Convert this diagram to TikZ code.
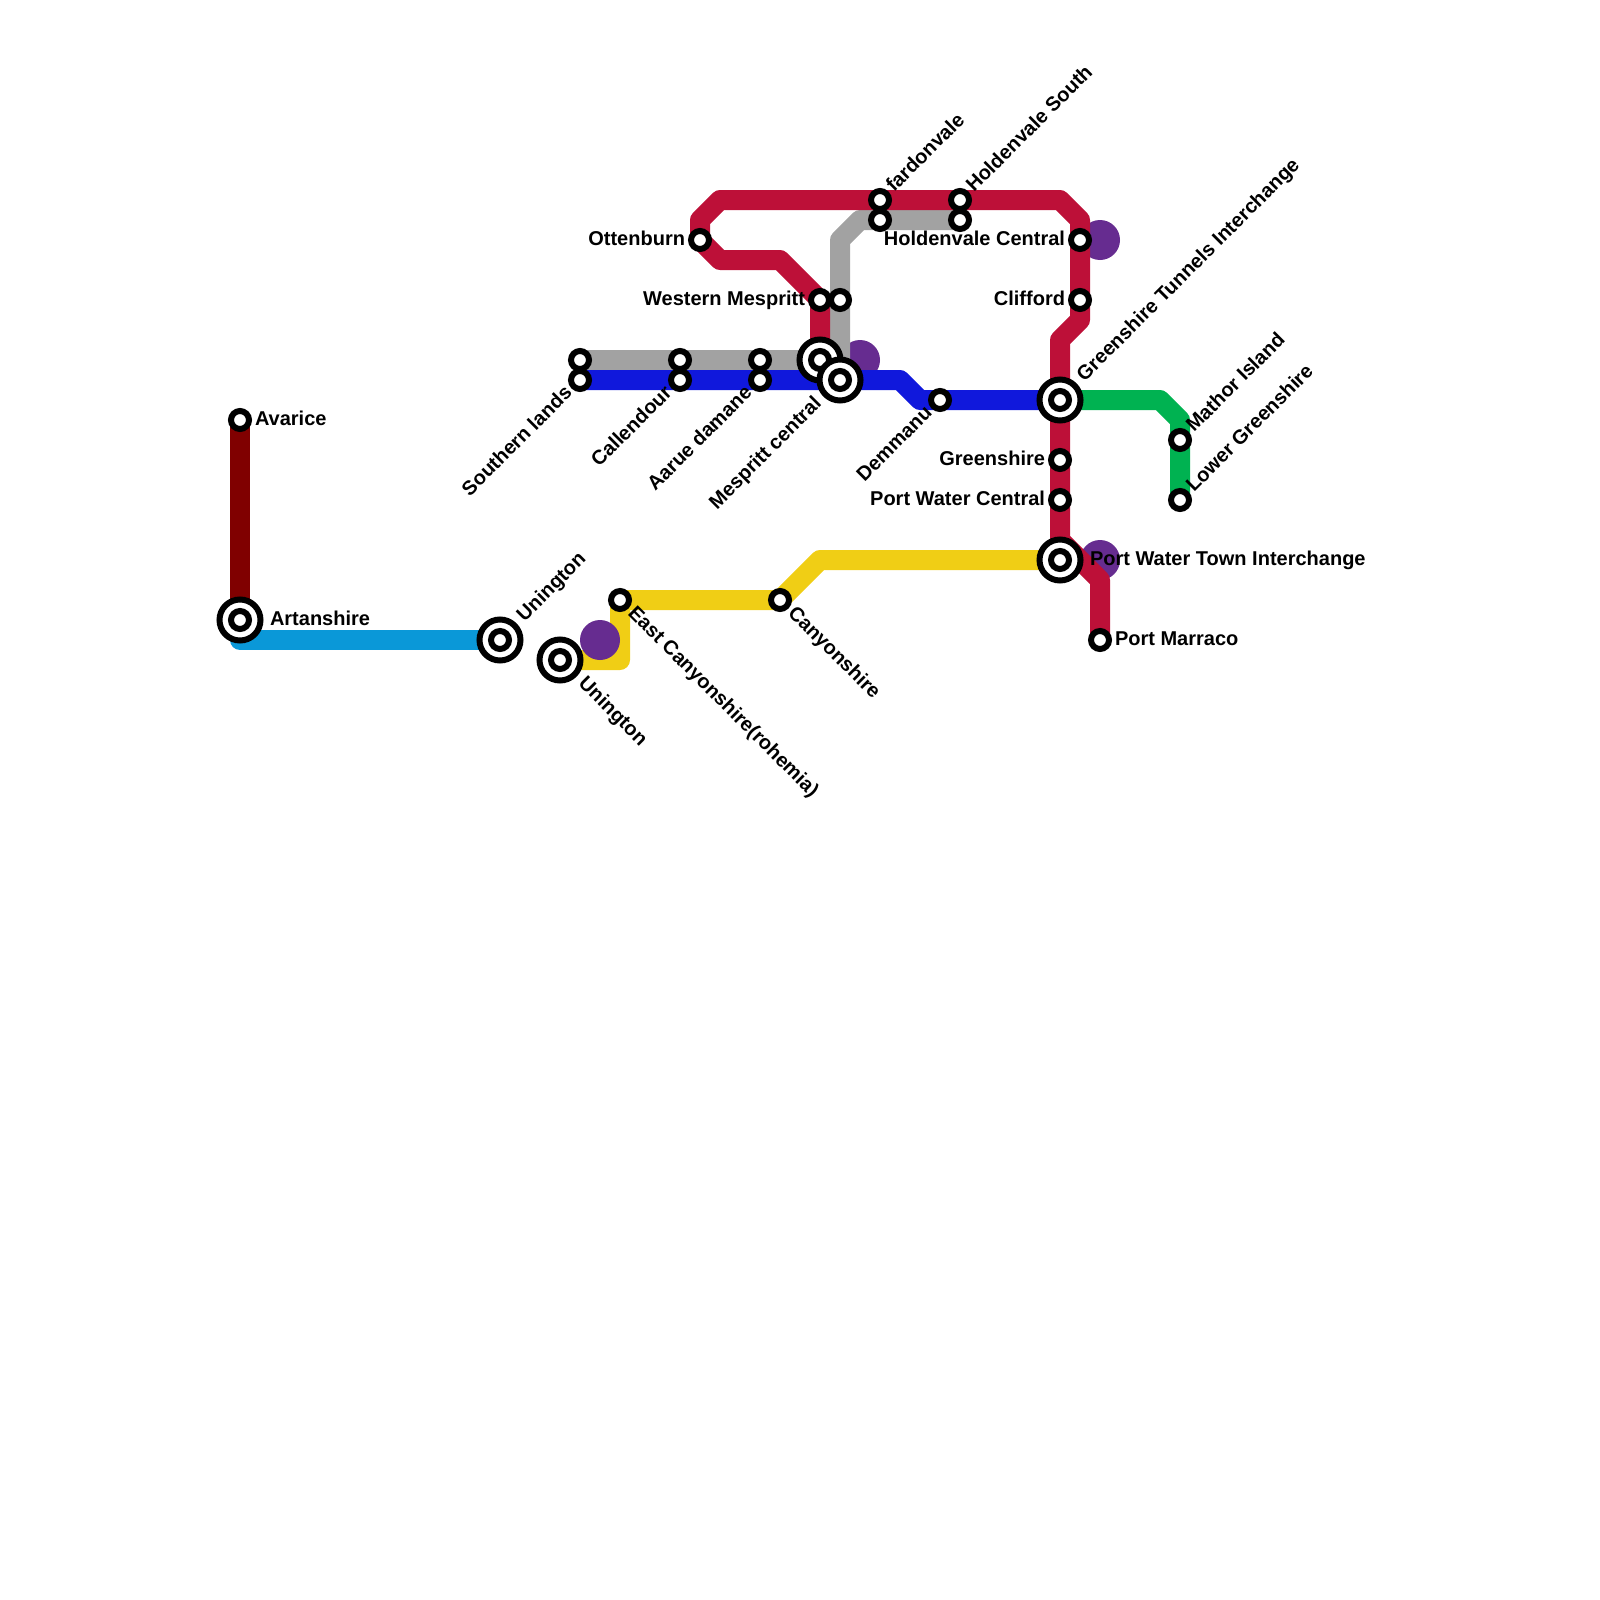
\documentclass[tikz,border=0pt]{standalone}
\usepackage{fontspec}
\setmainfont{Liberation Sans}
\definecolor{cred}{HTML}{BD1038}
\definecolor{cdark}{HTML}{800000}
\definecolor{ccyan}{HTML}{0A98D8}
\definecolor{cblue}{HTML}{1018DC}
\definecolor{cgrey}{HTML}{A2A2A2}
\definecolor{cgreen}{HTML}{00B251}
\definecolor{cyellow}{HTML}{F0CE15}
\definecolor{cpurple}{HTML}{662C90}
\tikzset{
  route/.style={line width=20pt,line join=round,line cap=butt},
  stn/.style={circle,draw=black,fill=white,line width=6pt,minimum size=18pt,inner sep=0pt,outer sep=0pt},
  bigstn/.style={circle,draw=black,fill=white,line width=6pt,minimum size=41pt,inner sep=0pt,outer sep=0pt},
  hub/.style={circle,fill=cpurple,minimum size=40pt,inner sep=0pt,outer sep=0pt},
  lbl/.style={font=\bfseries\fontsize{20}{22}\selectfont,inner sep=0pt,outer sep=0pt,text=black},
  lr/.style={lbl,anchor=base west},
  ll/.style={lbl,anchor=base east},
  lne/.style={lbl,anchor=base west,rotate=45},
  lse/.style={lbl,anchor=base west,rotate=-45},
  lsw/.style={lbl,anchor=base east,rotate=45},
}
\begin{document}
\begin{tikzpicture}[x=1pt,y=-1pt]
\useasboundingbox (0,0) rectangle (1600,1600);
% station positions
\coordinate (avarice) at (240,420);
\coordinate (artan) at (240,620);
\coordinate (unia) at (500,640);
\coordinate (unib) at (560,660);
\coordinate (eastc) at (620,600);
\coordinate (canyon) at (780,600);
\coordinate (southg) at (580,360);
\coordinate (southb) at (580,380);
\coordinate (callg) at (680,360);
\coordinate (callb) at (680,380);
\coordinate (aarg) at (760,360);
\coordinate (aarb) at (760,380);
\coordinate (mesr) at (820,360);
\coordinate (mesb) at (840,380);
\coordinate (wmr) at (820,300);
\coordinate (wmg) at (840,300);
\coordinate (ott) at (700,240);
\coordinate (fardr) at (880,200);
\coordinate (fardg) at (880,220);
\coordinate (holr) at (960,200);
\coordinate (holg) at (960,220);
\coordinate (holc) at (1080,240);
\coordinate (cliff) at (1080,300);
\coordinate (demm) at (940,400);
\coordinate (gtun) at (1060,400);
\coordinate (green) at (1060,460);
\coordinate (pwc) at (1060,500);
\coordinate (pwt) at (1060,560);
\coordinate (marr) at (1100,640);
\coordinate (math) at (1180,440);
\coordinate (lowg) at (1180,500);
% bends
\coordinate (c1) at (240,640);
\coordinate (y1) at (620,660);
\coordinate (y2) at (820,560);
\coordinate (g1) at (840,240);
\coordinate (g2) at (860,220);
\coordinate (b1) at (900,380);
\coordinate (b2) at (920,400);
\coordinate (r1) at (780,260);
\coordinate (r2) at (720,260);
\coordinate (r3) at (700,220);
\coordinate (r4) at (720,200);
\coordinate (r5) at (1060,200);
\coordinate (r6) at (1080,220);
\coordinate (r7) at (1080,320);
\coordinate (r8) at (1060,340);
\coordinate (r9) at (1060,540);
\coordinate (r10) at (1100,580);
\coordinate (n1) at (1160,400);
\coordinate (n2) at (1180,420);
% lines
\draw[route,cyellow] (unib) -- (y1) -- (eastc) -- (canyon) -- (y2) -- (pwt);
\node[hub] (huba) at (600,640) {};
\node[hub] (hubb) at (860,360) {};
\node[hub] (hubc) at (1100,240) {};
\node[hub] (hubd) at (1100,560) {};
\draw[route,cdark] (avarice) -- (artan);
\draw[route,ccyan] (artan) -- (c1) -- (unia);
\draw[route,cgrey] (southg) -- (mesr);
\draw[route,cgrey] (mesb) -- (g1) -- (g2) -- (holg);
\draw[route,cblue] (southb) -- (b1) -- (b2) -- (gtun);
\draw[route,cgreen] (gtun) -- (n1) -- (n2) -- (lowg);
\draw[route,cred] (mesr) -- (wmr) -- (r1) -- (r2) -- (ott) -- (r3) -- (r4) -- (r5) -- (r6) -- (r7) -- (r8) -- (r9) -- (r10) -- (marr);
% stations
\foreach \p in {avarice,eastc,canyon,southg,southb,callg,callb,aarg,aarb,wmr,wmg,ott,fardr,fardg,holr,holg,holc,cliff,demm,green,pwc,marr,math,lowg}
  \node[stn] (s-\p) at (\p) {};
\foreach \p in {artan,unia,unib,mesr,mesb,gtun,pwt}{
  \node[bigstn] (b-\p) at (\p) {};
  \node[stn] (i-\p) at (\p) {};
}
% labels
\node[lr] (t1) at (255,425) {Avarice};
\node[lr] (t2) at (270,625) {Artanshire};
\node[lne] (t3) at (524.7,622.3) {Unington};
\node[lse] (t4) at (577.7,684.7) {Unington};
\node[lse] (t5) at (627.1,614.1) {East Canyonshire(rohemia)};
\node[lse] (t6) at (787.1,614.1) {Canyonshire};
\node[lsw] (t7) at (572.9,394.1) {Southern lands};
\node[lsw] (t8) at (672.9,394.1) {Callendour};
\node[lsw] (t9) at (752.9,394.1) {Aarue damane};
\node[lsw] (t10) at (822.3,404.7) {Mespritt central};
\node[ll] (t11) at (685,245) {Ottenburn};
\node[ll] (t12) at (805,305) {Western Mespritt};
\node[lne] (t13) at (894.1,192.9) {fardonvale};
\node[lne] (t14) at (974.1,192.9) {Holdenvale South};
\node[ll] (t15) at (1065,245) {Holdenvale Central};
\node[ll] (t16) at (1065,305) {Clifford};
\node[lsw] (t17) at (932.9,414.1) {Demmanu};
\node[lne] (t18) at (1084.7,382.3) {Greenshire Tunnels Interchange};
\node[ll] (t19) at (1045,465) {Greenshire};
\node[ll] (t20) at (1045,505) {Port Water Central};
\node[lr] (t21) at (1090,565) {Port Water Town Interchange};
\node[lr] (t22) at (1115,645) {Port Marraco};
\node[lne] (t23) at (1194.1,432.9) {Mathor Island};
\node[lne] (t24) at (1194.1,492.9) {Lower Greenshire};
\end{tikzpicture}
\end{document}
